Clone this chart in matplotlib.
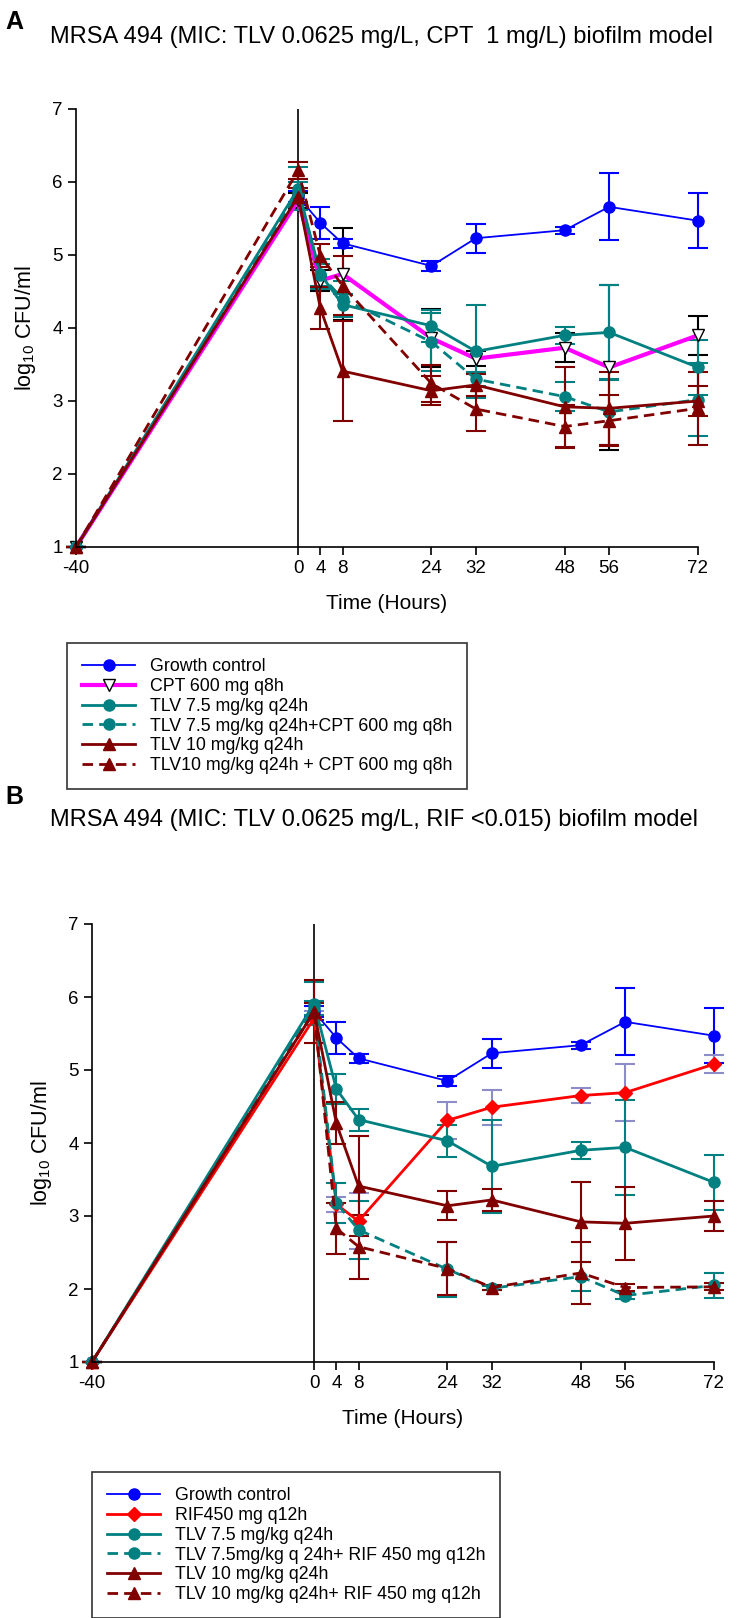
import matplotlib
matplotlib.use("Agg")
import matplotlib.pyplot as plt

plt.rcParams['font.family'] = ['Liberation Sans', 'DejaVu Sans']
plt.rcParams['axes.unicode_minus'] = False
plt.rcParams['mathtext.fontset'] = 'custom'
plt.rcParams['mathtext.rm'] = 'Liberation Sans'

hours = [-40, 0, 4, 8, 24, 32, 48, 56, 72]
xticks = [-40, 0, 4, 8, 24, 32, 48, 56, 72]

# shared series
gc = [1, 5.80, 5.44, 5.16, 4.85, 5.23, 5.34, 5.66, 5.47]
gc_err = [0, 0.08, 0.22, 0.06, 0.07, 0.20, 0.05, 0.46, 0.38]
tlv75 = [1, 5.91, 4.74, 4.32, 4.03, 3.68, 3.90, 3.94, 3.46]
tlv75_err = [0, 0.29, 0.21, 0.15, 0.22, 0.64, 0.12, 0.65, 0.38]
tlv10 = [1, 5.80, 4.27, 3.41, 3.14, 3.22, 2.92, 2.90, 3.00]
tlv10_err = [0, 0.12, 0.29, 0.68, 0.20, 0.15, 0.55, 0.50, 0.20]

# panel A
cpt = [1, 5.75, 4.65, 4.74, 3.86, 3.58, 3.73, 3.46, 3.90]
cpt_err = [0, 0.10, 0.15, 0.63, 0.40, 0.10, 0.20, 1.13, 0.27]
tlv75_cpt = [1, 5.85, 4.73, 4.40, 3.81, 3.30, 3.06, 2.85, 3.02]
tlv75_cpt_err = [0, 0.15, 0.15, 0.25, 0.40, 0.10, 0.20, 0.45, 0.50]
tlv10_cpt = [1, 6.16, 4.99, 4.58, 3.24, 2.89, 2.65, 2.73, 2.90]
tlv10_cpt_err = [0, 0.12, 0.16, 0.40, 0.25, 0.30, 0.30, 0.35, 0.50]

# panel B
rif = [1, 5.71, 3.16, 2.93, 4.31, 4.49, 4.65, 4.69, 5.08]
rif_err = [0, 0.10, 0.10, 0.38, 0.25, 0.24, 0.10, 0.39, 0.12]
tlv75_rif = [1, 5.85, 3.18, 2.81, 2.27, 2.01, 2.17, 1.91, 2.05]
tlv75_rif_err = [0, 0.10, 0.27, 0.40, 0.38, 0.03, 0.20, 0.05, 0.17]
tlv10_rif = [1, 5.80, 2.83, 2.58, 2.28, 2.02, 2.22, 2.02, 2.03]
tlv10_rif_err = [0, 0.43, 0.35, 0.44, 0.36, 0.03, 0.42, 0.05, 0.05]

BLUE = '#0000ff'
MAG = '#ff00ff'
TEAL = '#008080'
DRED = '#800000'
RED = '#ff0000'
LAV = '#8c8cc8'

fig = plt.figure(figsize=(7.51, 16.18), dpi=100)
axA = fig.add_axes([76 / 751, 1 - 547 / 1618, 622 / 751, 438 / 1618])
axB = fig.add_axes([92 / 751, 1 - 1362 / 1618, 622 / 751, 438 / 1618])


def draw(ax, y, err, label, color, marker, ls='-', lw=2.0, ecolor=None,
         mfc=None, mec=None, ms=8):
    ax.errorbar(hours, y, yerr=err, label=label, color=color, marker=marker,
                linestyle=ls, linewidth=lw, markersize=ms,
                markerfacecolor=mfc or color, markeredgecolor=mec or color,
                ecolor=ecolor or color, elinewidth=1.5, capsize=7, capthick=1.5,
                clip_on=False, dashes=(3.8, 2.2) if ls == '--' else (None, None))


def style(ax):
    ax.set_xlim(-40, 72)
    ax.set_ylim(1, 7)
    ax.axvline(0, color='black', linewidth=1.2, zorder=0)
    ax.set_xticks(xticks)
    ax.set_yticks(range(1, 8))
    ax.spines['top'].set_visible(False)
    ax.spines['right'].set_visible(False)
    for s in ['left', 'bottom']:
        ax.spines[s].set_linewidth(1.2)
    ax.tick_params(direction='out', length=6, width=1.2, labelsize=13.5)
    ax.set_xlabel('Time (Hours)', fontsize=15, labelpad=12)
    ax.set_ylabel(r'log$_{10}$ CFU/ml', fontsize=15.5, labelpad=10)


# panel A
draw(axA, gc, gc_err, 'Growth control', BLUE, 'o', lw=1.3)
draw(axA, cpt, cpt_err, 'CPT 600 mg q8h', MAG, 'v', lw=3, ecolor='black',
     mfc='white', mec='black', ms=8)
draw(axA, tlv75, tlv75_err, 'TLV 7.5 mg/kg q24h', TEAL, 'o')
draw(axA, tlv75_cpt, tlv75_cpt_err, 'TLV 7.5 mg/kg q24h+CPT 600 mg q8h', TEAL, 'o', ls='--')
draw(axA, tlv10, tlv10_err, 'TLV 10 mg/kg q24h', DRED, '^')
draw(axA, tlv10_cpt, tlv10_cpt_err, 'TLV10 mg/kg q24h + CPT 600 mg q8h', DRED, '^', ls='--')
style(axA)

# panel B
draw(axB, gc, gc_err, 'Growth control', BLUE, 'o', lw=1.3)
draw(axB, rif, rif_err, 'RIF450 mg q12h', RED, 'D', ecolor=LAV, ms=7)
draw(axB, tlv75, tlv75_err, 'TLV 7.5 mg/kg q24h', TEAL, 'o')
draw(axB, tlv75_rif, tlv75_rif_err, 'TLV 7.5mg/kg q 24h+ RIF 450 mg q12h', TEAL, 'o', ls='--')
draw(axB, tlv10, tlv10_err, 'TLV 10 mg/kg q24h', DRED, '^')
draw(axB, tlv10_rif, tlv10_rif_err, 'TLV 10 mg/kg q24h+ RIF 450 mg q12h', DRED, '^', ls='--')
style(axB)

for ax, left, top in [(axA, 67, 643), (axB, 92, 1472)]:
    h, l = ax.get_legend_handles_labels()
    h = [x[0] for x in h]
    leg = fig.legend(h, l, loc='upper left',
                     bbox_to_anchor=(left / 751, 1 - top / 1618),
                     fontsize=12.8, frameon=True, fancybox=False, edgecolor='black',
                     handlelength=3.0, labelspacing=0.16, borderpad=0.85,
                     handletextpad=0.8, borderaxespad=0)
    leg.get_frame().set_linewidth(1.2)

fig.text(5 / 751, 1 - 22 / 1618, 'A', fontsize=18, fontweight='bold', va='center')
fig.text(50 / 751, 1 - 37 / 1618,
         'MRSA 494 (MIC: TLV 0.0625 mg/L, CPT  1 mg/L) biofilm model',
         fontsize=17, va='center')
fig.text(5 / 751, 1 - 797 / 1618, 'B', fontsize=18, fontweight='bold', va='center')
fig.text(50 / 751, 1 - 820 / 1618,
         'MRSA 494 (MIC: TLV 0.0625 mg/L, RIF <0.015) biofilm model',
         fontsize=17, va='center')

fig.savefig('out.png', dpi=100)
